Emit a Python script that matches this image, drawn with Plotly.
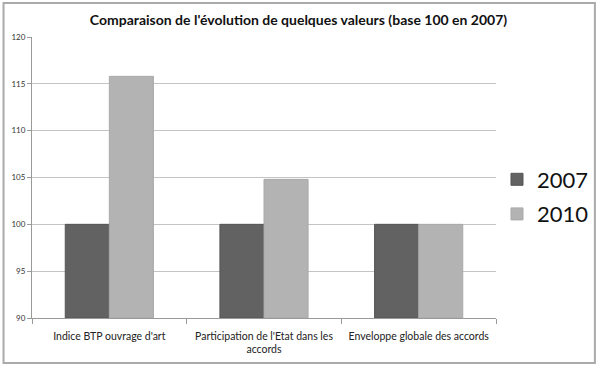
import plotly.graph_objects as go

categories = ["Indice BTP ouvrage d'art",
              "Participation de l'Etat dans les<br>accords",
              "Enveloppe globale des accords"]
series_names = ["2007", "2010"]
values_2007 = [100, 100, 100]
values_2010 = [115.8, 104.8, 100]
y_ticks = [90, 95, 100, 105, 110, 115, 120]

font_family = "Lato, 'Open Sans', sans-serif"

fig = go.Figure()
fig.add_trace(go.Bar(x=categories, y=[v - 90 for v in values_2007], base=90,
                     name=series_names[0], legendgroup="a",
                     marker=dict(color="#626262", line=dict(color="#555555", width=1)),
                     hoverinfo="skip"))
fig.add_trace(go.Bar(x=categories, y=[v - 90 for v in values_2010], base=90,
                     name=series_names[1], legendgroup="b",
                     marker=dict(color="#b3b3b3", line=dict(color="#a9a9a9", width=1)),
                     hoverinfo="skip"))

L, R, T, B = 31.5, 496, 37, 318
W, H = 600, 370
pw, ph = R - L, B - T

def px2x(p):
    return (p - L) / pw

def py2y(p):
    return (B - p) / ph

fig.update_layout(
    width=W, height=H,
    margin=dict(l=L, r=W - R, t=T, b=H - B, pad=0, autoexpand=False),
    paper_bgcolor="white", plot_bgcolor="white",
    barmode="group", bargap=0.43, bargroupgap=0,
    font=dict(family=font_family, color="#222222"),
    title=dict(text="<b>Comparaison de l'évolution de quelques valeurs (base 100 en 2007)</b>",
               x=298.5 / W, xanchor="center", xref="container",
               y=1 - 20 / H, yanchor="middle", yref="container",
               font=dict(size=14, family=font_family, color="#111111")),
    showlegend=True,
    legend=dict(x=px2x(497), xanchor="left", y=py2y(197), yanchor="middle",
                font=dict(size=22, family=font_family, color="#111111"),
                traceorder="grouped", tracegroupgap=3,
                bgcolor="rgba(0,0,0,0)"),
    xaxis=dict(showline=True, linecolor="#9a9a9a", linewidth=1,
               ticks="outside", tickson="boundaries", ticklen=5, tickcolor="#9a9a9a",
               tickangle=0, automargin=False, ticklabelstandoff=8,
               tickfont=dict(size=10.5, family=font_family, color="#222222"),
               showgrid=False, fixedrange=True),
    yaxis=dict(range=[90, 120], tickvals=y_ticks, ticktext=[str(t) for t in y_ticks],
               showline=True, linecolor="#9a9a9a", linewidth=1,
               ticks="outside", ticklen=4, tickcolor="#9a9a9a", automargin=False,
               tickfont=dict(size=8, family=font_family, color="#333333"),
               showgrid=True, gridcolor="#c4c4c4", gridwidth=1,
               zeroline=False, fixedrange=True),
    shapes=[dict(type="rect", xref="paper", yref="paper",
                 x0=px2x(3), x1=px2x(595), y0=py2y(363), y1=py2y(3),
                 line=dict(color="#aaaaaa", width=2), layer="below")],
)

fig.write_html("out.html", config={"displayModeBar": False},
               post_script="document.body.style.margin='0';document.body.style.padding='0';")
